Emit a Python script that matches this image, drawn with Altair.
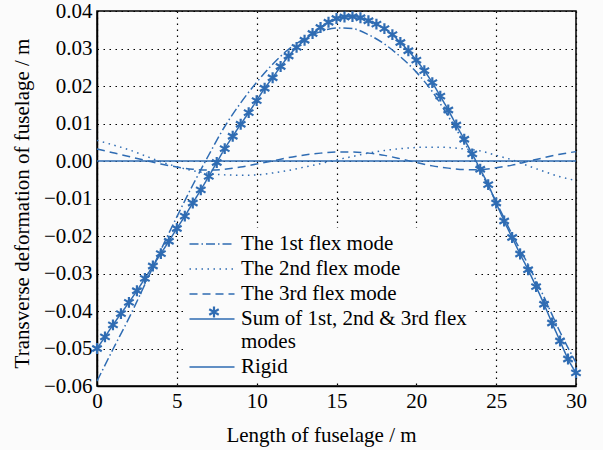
import altair as alt
import pandas as pd

# ---------------- data ----------------
SERIES = ["The 1st flex mode", "The 2nd flex mode", "The 3rd flex mode",
          "Sum of 1st, 2nd & 3rd flex modes", "Rigid"]

x_modes = [0, 1, 2, 3, 4, 5, 6, 7, 8, 9, 10, 11, 12, 13, 14, 15, 16, 17, 18, 19, 20,
           21, 22, 23, 24, 25, 26, 27, 28, 29, 30]

mode1 = [-0.0587, -0.0502, -0.0419, -0.0329, -0.0237, -0.0149, -0.0064, 0.0016, 0.0092,
         0.0155, 0.0210, 0.0258, 0.0298, 0.0326, 0.0345, 0.0355, 0.0353, 0.0337, 0.0312,
         0.0278, 0.0237, 0.0185, 0.0119, 0.0049, -0.0026, -0.0109, -0.0196, -0.0276,
         -0.0363, -0.0456, -0.0538]

mode2 = [0.0055, 0.0043, 0.0030, 0.0014, -0.0002, -0.0015, -0.0026, -0.0033, -0.0037,
         -0.0038, -0.0037, -0.0032, -0.0025, -0.0016, -0.0007, 0.0003, 0.0012, 0.0021,
         0.0028, 0.0033, 0.0036, 0.0037, 0.0036, 0.0032, 0.0027, 0.0015, 0.0003,
         -0.0013, -0.0028, -0.0042, -0.0052]

mode3 = [0.0032, 0.0022, 0.0012, 0.0002, -0.0008, -0.0016, -0.0022, -0.0024, -0.0022,
         -0.0016, -0.0008, 0.0000, 0.0009, 0.0016, 0.0021, 0.0024, 0.0024, 0.0021,
         0.0015, 0.0006, -0.0004, -0.0013, -0.0019, -0.0023, -0.0023, -0.0018, -0.0011,
         -0.0001, 0.0009, 0.0018, 0.0025]

x_sum = [0, 0.5, 1, 1.5, 2, 2.5, 3, 3.5, 4, 4.5, 5, 5.5, 6, 6.5, 7, 7.5, 8, 8.5, 9, 9.5,
         10, 10.5, 11, 11.5, 12, 12.5, 13, 13.5, 14, 14.5, 15, 15.5, 16, 16.5, 17, 17.5,
         18, 18.5, 19, 19.5, 20, 20.5, 21, 21.5, 22, 22.5, 23, 23.5, 24, 24.5, 25, 25.5,
         26, 26.5, 27, 27.5, 28, 28.5, 29, 29.5, 30]

sum_modes = [-0.0500, -0.0469, -0.0437, -0.0407, -0.0377, -0.0346, -0.0313, -0.0280,
             -0.0247, -0.0214, -0.0180, -0.0147, -0.0112, -0.0077, -0.0041, -0.0004,
             0.0033, 0.0066, 0.0098, 0.0129, 0.0161, 0.0194, 0.0222, 0.0252, 0.0280,
             0.0303, 0.0322, 0.0340, 0.0356, 0.0370, 0.0380, 0.0384, 0.0385, 0.0382,
             0.0374, 0.0365, 0.0353, 0.0337, 0.0316, 0.0294, 0.0269, 0.0241, 0.0209,
             0.0173, 0.0136, 0.0096, 0.0058, 0.0019, -0.0022, -0.0063, -0.0112, -0.0160,
             -0.0204, -0.0248, -0.0290, -0.0335, -0.0382, -0.0432, -0.0480, -0.0528,
             -0.0565]

x_rigid = [0, 30]
rigid = [0.0, 0.0]

x_ticks = [0, 5, 10, 15, 20, 25, 30]
y_ticks = [-0.06, -0.05, -0.04, -0.03, -0.02, -0.01, 0.0, 0.01, 0.02, 0.03, 0.04]

# ---------------- styling ----------------
BLUE = "#2f6cb3"
BG = "#fbfbfb"
FONT = "Liberation Serif"
FS = 21
DASHES = [[9, 3, 1.5, 3], [1.5, 4.5], [8, 5], [1, 0], [1, 0]]
ASTERISK = "M0,-1L0,1M-0.87,-0.5L0.87,0.5M-0.87,0.5L0.87,-0.5"
LEG_LINE = "M-2.25,0L2.25,0"

rows = []
for name, xs, ys in [(SERIES[0], x_modes, mode1), (SERIES[1], x_modes, mode2),
                     (SERIES[2], x_modes, mode3), (SERIES[3], x_sum, sum_modes),
                     (SERIES[4], x_rigid, rigid)]:
    for a, b in zip(xs, ys):
        rows.append({"series": name, "x": a, "y": b})
df_lines = pd.DataFrame(rows)
df_sum = pd.DataFrame({"x": x_sum, "y": sum_modes, "marker": SERIES[3]})

x_enc = alt.X("x:Q", scale=alt.Scale(domain=[0, 30], nice=False),
              axis=alt.Axis(values=x_ticks, title="Length of fuselage / m",
                            titleX=224, titleY=55, titleBaseline="alphabetic",
                            labelFlush=False, labelPadding=4, labelOverlap=False))
y_enc = alt.Y("y:Q", scale=alt.Scale(domain=[-0.06, 0.04], nice=False, zero=False),
              axis=alt.Axis(values=y_ticks, format=".2f",
                            title="Transverse deformation of fuselage / m",
                            titleX=-69, titleY=192, titleBaseline="alphabetic",
                            titleAlign="center", labelFlush=False, labelPadding=5,
                            labelOverlap=False))

legend_a = alt.Legend(title=None, orient="none", legendX=87, legendY=217,
                      fillColor=BG, padding=5, symbolType=LEG_LINE, symbolSize=400,
                      symbolOffset=12, labelOffset=18, symbolStrokeColor=BLUE,
                      symbolStrokeWidth=1.5, labelFont=FONT, labelFontSize=FS,
                      labelColor="black", labelLimit=500, rowPadding=4,
                      labelExpr="datum.label == 'Sum of 1st, 2nd & 3rd flex modes' ? "
                                "['Sum of 1st, 2nd & 3rd flex', 'modes'] : datum.label")

legend_b = alt.Legend(title=None, orient="none", legendX=110, legendY=294,
                      padding=0, symbolOffset=0, symbolSize=120, labelExpr="''",
                      symbolStrokeColor=BLUE, symbolStrokeWidth=2.2,
                      symbolFillColor="transparent", labelFontSize=1)

lines = alt.Chart(df_lines).mark_line(strokeWidth=1.5, color=BLUE,
                                      interpolate="monotone").encode(
    x=x_enc, y=y_enc,
    strokeDash=alt.StrokeDash("series:N",
                              scale=alt.Scale(domain=SERIES, range=DASHES),
                              legend=legend_a),
)

points = alt.Chart(df_sum).mark_point(filled=False, strokeWidth=2.2, size=120,
                                      color=BLUE, opacity=1).encode(
    x=x_enc, y=y_enc,
    shape=alt.Shape("marker:N", scale=alt.Scale(domain=[SERIES[3]], range=[ASTERISK]),
                    legend=legend_b),
)

chart = alt.layer(lines, points).properties(
    width=479, height=375,
    autosize=alt.AutoSizeParams(type="none"),
    padding={"left": 97, "top": 11, "right": 27, "bottom": 64},
    background=BG,
).configure_view(
    stroke="black", strokeWidth=1.5, fill=BG
).configure_axis(
    labelFont=FONT, labelFontSize=FS, labelColor="black",
    titleFont=FONT, titleFontSize=FS, titleFontWeight="normal", titleColor="black",
    grid=True, gridColor="black", gridDash=[1.5, 4.5], gridWidth=1.2, gridOpacity=1,
    domainColor="black", domainWidth=1.5, ticks=False,
)

chart.save("out.html", embed_options={"renderer": "svg", "actions": False})
